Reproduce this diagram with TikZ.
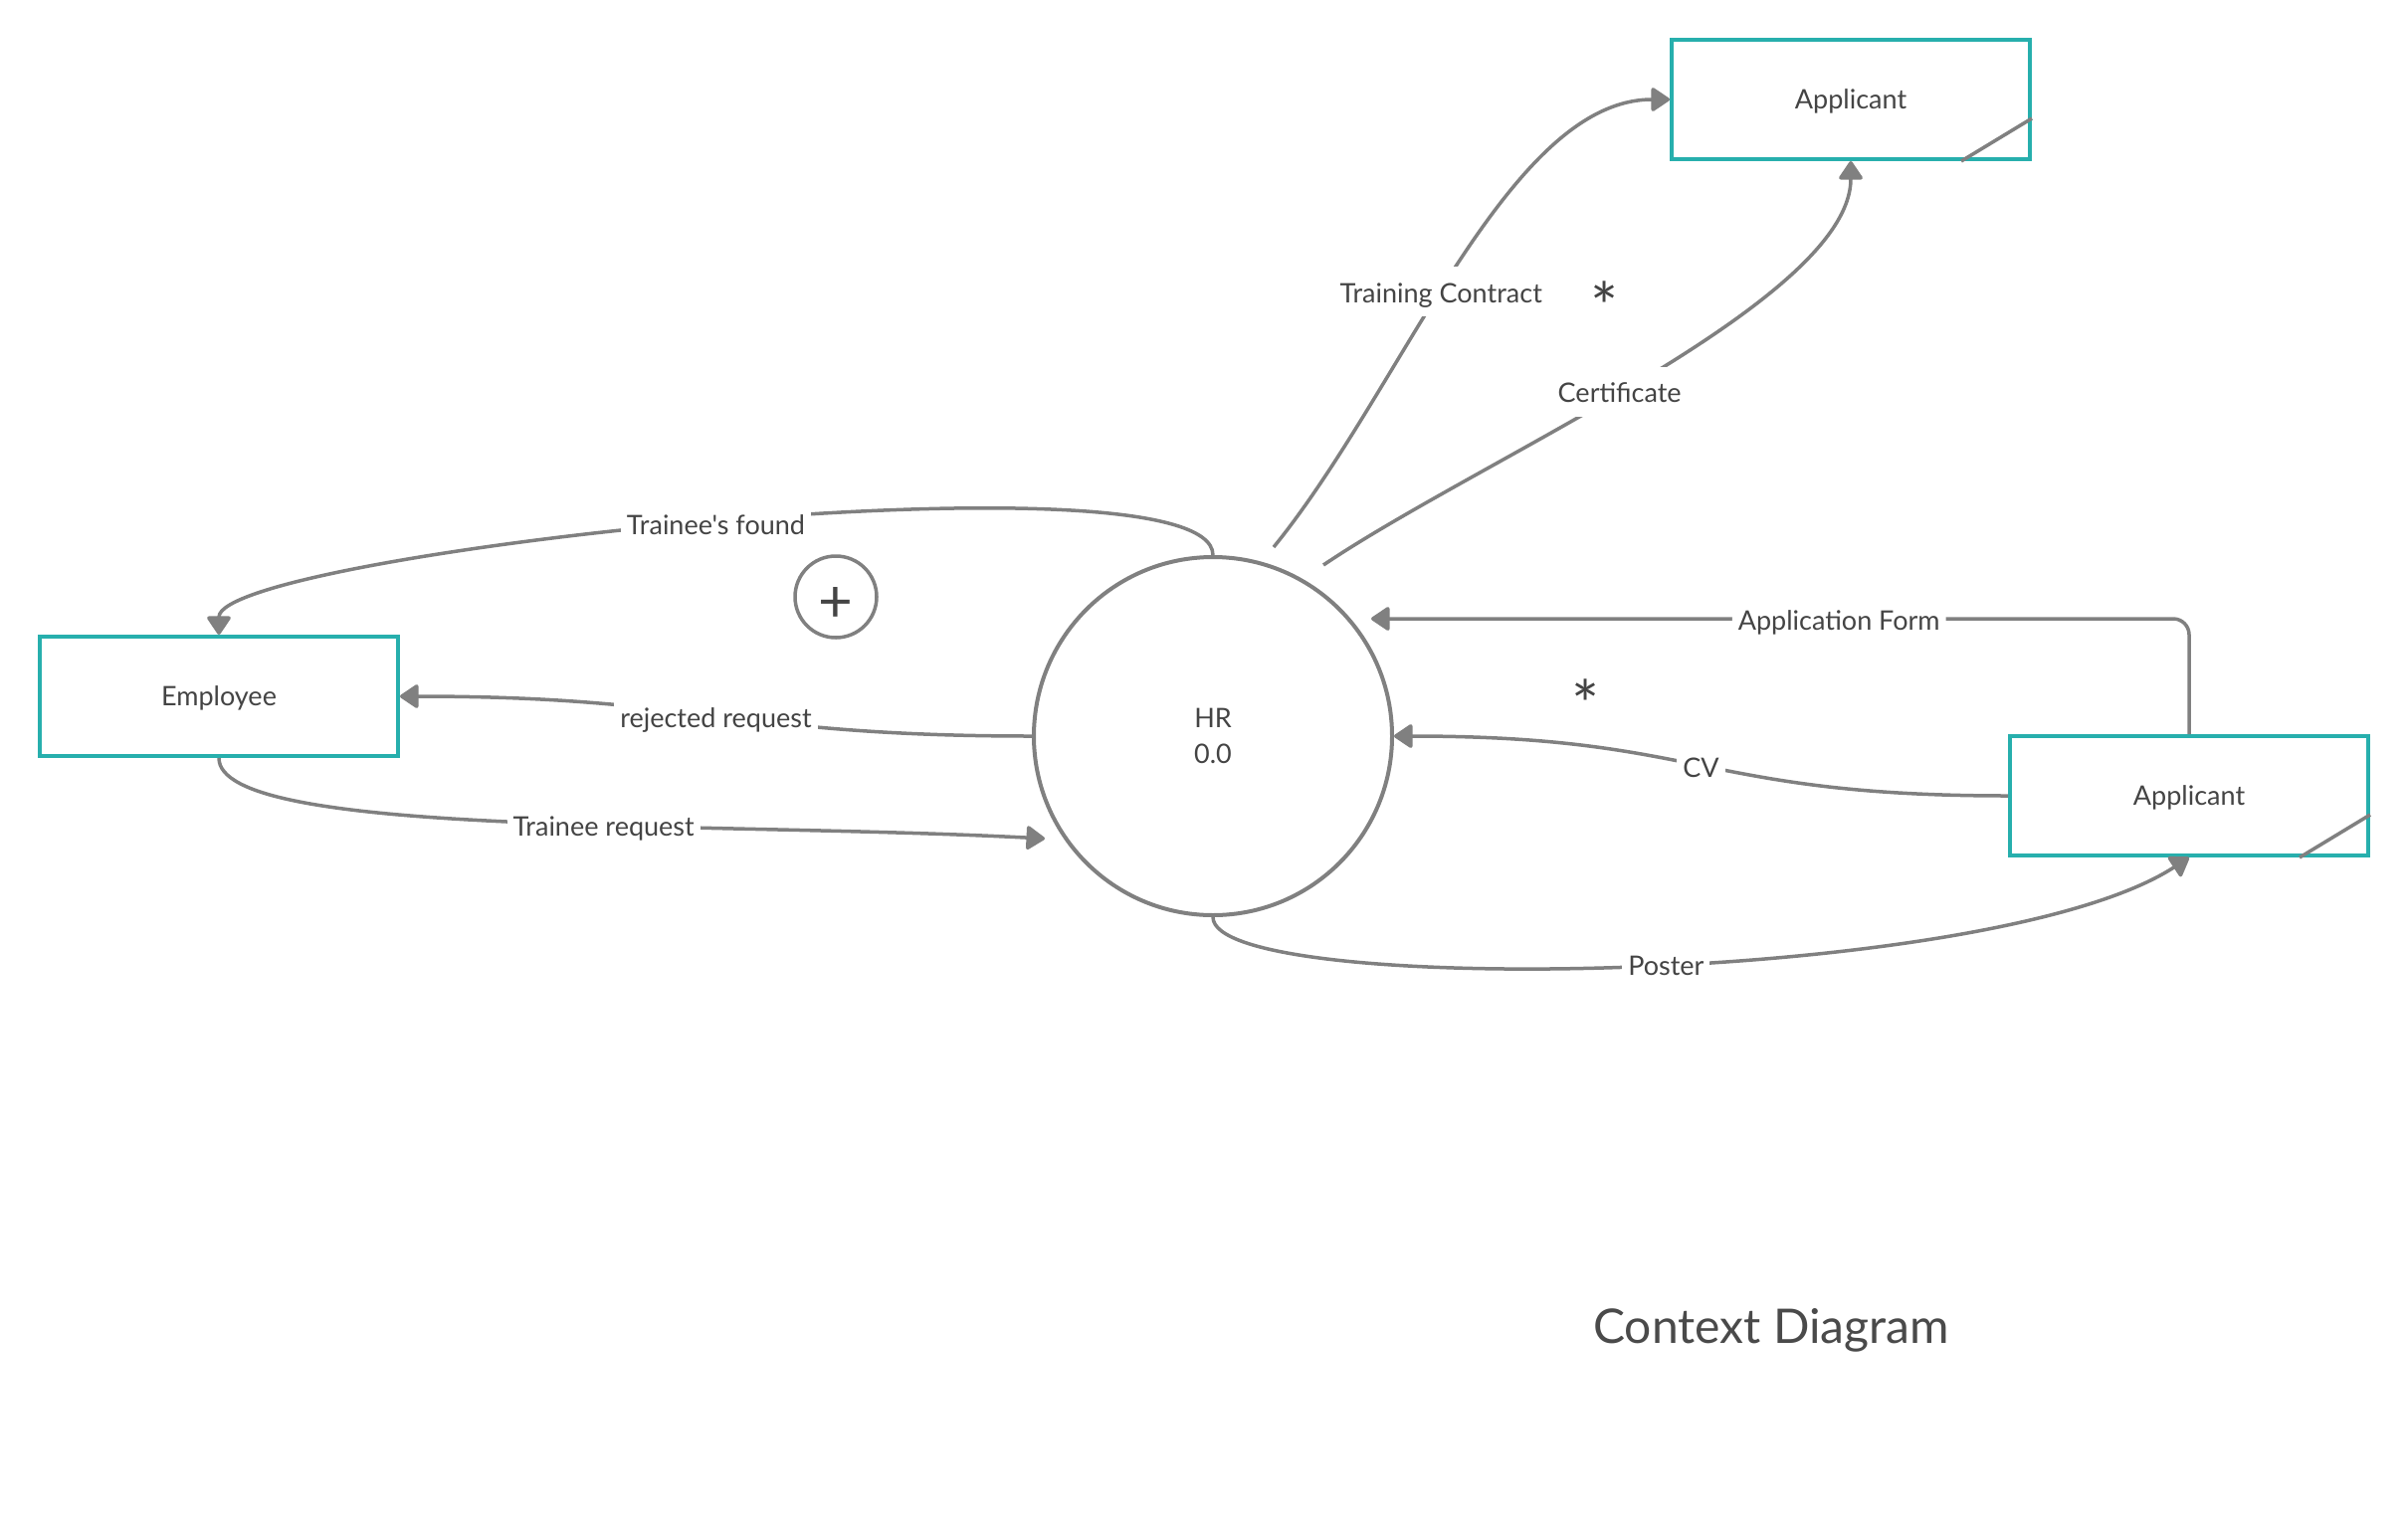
\documentclass[tikz,border=0pt]{standalone}
\usepackage{fontspec}
\newfontfamily\lato{Lato}
\usetikzlibrary{arrows.meta,calc}
\definecolor{dfdteal}{HTML}{27AFAD}
\definecolor{lgray}{HTML}{808080}
\definecolor{txt}{HTML}{444444}
\definecolor{ttl}{HTML}{4A4A4A}
\begin{document}
\begin{tikzpicture}[x=1pt,y=-1pt,
  basefont/.style={font=\lato\fontsize{27}{36}\selectfont, text=txt},
  ent/.style={basefont, draw=dfdteal, line width=4pt, minimum width=360pt, minimum height=120pt, inner sep=0pt, text height=25pt, text depth=5.6pt},
  proc/.style={basefont, circle, draw=lgray, line width=4pt, minimum size=360pt, inner sep=0pt, align=center},
  flow/.style={draw=lgray, line width=3.5pt, -{Triangle[length=20pt,width=26pt,round]}},
  lbl/.style={basefont, fill=white, inner xsep=6pt, inner ysep=4pt, text height=32pt, text depth=10pt},
  diag/.style={draw=lgray, line width=3.5pt},
  star/.style={font=\lato\fontsize{66}{66}\selectfont, text=txt, inner sep=0pt}
]
\fill[white] (0,0) rectangle (2420,1521);
\useasboundingbox (0,0) rectangle (2420,1521);

% entities and process
\node[ent] (app1) at (1860,100) {Applicant};
\node[ent] (emp) at (220,700) {Employee};
\node[ent] (app2) at (2200,800) {Applicant};
\node[proc] (hr) at (1219,740) {HR\\0.0};

% box corner marks
\draw[diag] ($(app1.south east)+(-71,0)$) -- ($(app1.south east)+(0,-43)$);
\draw[diag] ($(app2.south east)+(-71,0)$) -- ($(app2.south east)+(0,-43)$);

% plus circle
\node[circle, draw=lgray, line width=3.5pt, minimum size=82pt, inner sep=0pt] (plus) at (840,600) {};
\node[font=\lato\fontsize{60}{60}\selectfont, text=txt, inner sep=0pt] (plustext) at (840,608) {+};

% asterisks
\node[star] (ast1) at (1613,308) {*};
\node[star] (ast2) at (1594,708) {*};

% free ends
\coordinate (trqEnd) at (1050,843);
\coordinate (afEnd) at (1378,622);
\coordinate (tcStart) at (1280,550);
\coordinate (ceStart) at (1330,568);

% flows
\draw[flow] (hr.north) .. controls +(0,-110) and +(0,-82) .. node[lbl,pos=0.5]{Trainee's found} (emp.north);
\draw[flow] (hr.west) .. controls +(-300,0) and +(300,0) .. node[lbl,pos=0.5]{rejected request} (emp.east);
\draw[flow] (emp.south) .. controls +(0,80) and +(-350,-18) .. node[lbl,pos=0.6]{Trainee request} (trqEnd);
\draw[flow] (tcStart) .. controls +(130,-160) and +(-162,0) .. node[lbl,pos=0.45]{Training Contract} (app1.west);
\draw[flow] (ceStart) .. controls +(160,-108) and +(0,140) .. node[lbl,pos=0.46]{Certificate} (app1.south);
\draw[flow, rounded corners=16pt] (app2.north) |- node[lbl,pos=0.714]{Application Form} (afEnd);
\draw[flow] (app2.west) .. controls +(-310,0) and +(310,0) .. node[lbl,pos=0.5]{CV} (hr.east);
\draw[flow] (hr.south) .. controls +(0,81) and +(-200,130) .. node[lbl,pos=0.53]{Poster} (app2.south);

% title
\node[font=\lato\fontsize{48}{58}\selectfont, text=ttl, anchor=base] (title) at (1780,1350) {Context Diagram};
\end{tikzpicture}
\end{document}
